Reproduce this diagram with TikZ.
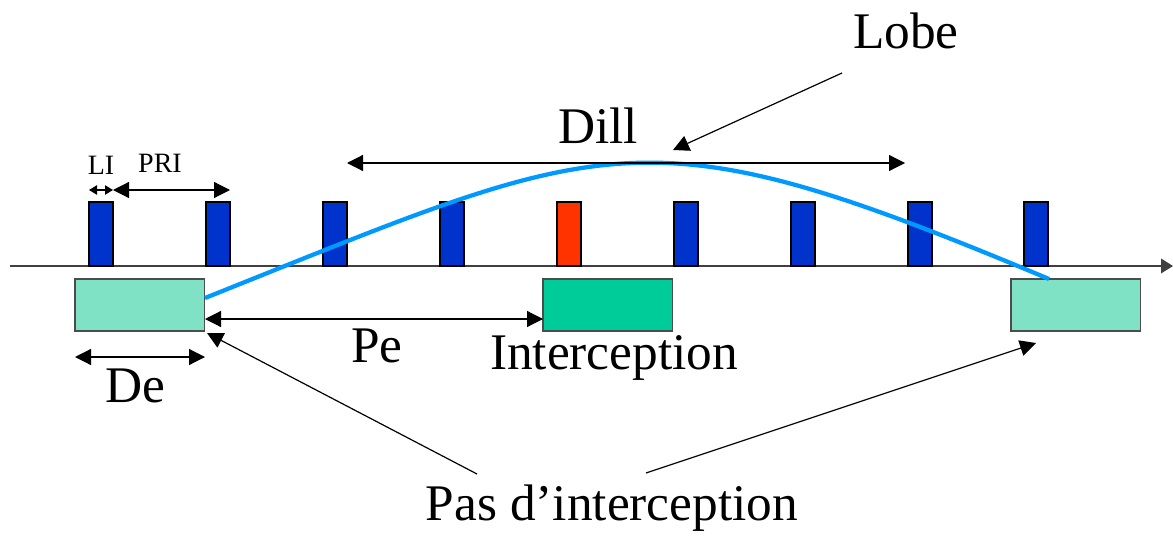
\documentclass[tikz,border=0pt]{standalone}
\usepackage{fontspec}
\setmainfont{Liberation Serif}
\usetikzlibrary{arrows.meta}
\definecolor{pulseblue}{RGB}{0,51,204}
\definecolor{pulsered}{RGB}{255,51,0}
\definecolor{hatchgreen}{RGB}{128,226,196}
\definecolor{intgreen}{RGB}{0,204,153}
\definecolor{lobeblue}{RGB}{0,153,255}
\tikzset{
  pulse/.style={draw=black,line width=1.2pt,fill=pulseblue,minimum width=18pt,minimum height=48pt,inner sep=0pt,outer sep=0pt,anchor=south west},
  win/.style={draw=black!70,line width=1.2pt,minimum width=97pt,minimum height=39pt,inner sep=0pt,outer sep=0pt,anchor=north west},
  big/.style={font=\fontsize{38.5}{40}\selectfont,inner sep=0pt},
  small/.style={font=\fontsize{21}{22}\selectfont,inner sep=0pt},
  dim/.style={line width=0.9pt,{Triangle[length=12pt,width=12pt]}-{Triangle[length=12pt,width=12pt]}},
  tinydim/.style={line width=0.9pt,{Triangle[length=6pt,width=7pt]}-{Triangle[length=6pt,width=7pt]}},
  ptr/.style={line width=0.9pt,-{Triangle[length=12pt,width=12pt]}},
}
\begin{document}
\begin{tikzpicture}[x=0.75pt,y=-0.75pt]
\useasboundingbox (0,0) rectangle (1173,535);
% axis
\coordinate (ax0) at (10,266);
\coordinate (ax1) at (1173,266);
\draw[line width=1.1pt,black!75,-{Triangle[length=9pt,width=11pt]}] (ax0) -- (ax1);
% pulses
\foreach \i/\x in {1/89,2/206,3/323,4/440,6/674,7/791,8/908,9/1024}{
  \node[pulse] (p\i) at (\x,266) {};
}
\node[pulse,fill=pulsered] (p5) at (557,266) {};
% windows
\node[win,fill=hatchgreen] (w1) at (75,279) {};
\node[win,fill=intgreen] (w2) at (543,279) {};
\node[win,fill=hatchgreen] (w3) at (1011,279) {};
% lobe curve
\coordinate (c0) at (205,298);
\coordinate (c1) at (1049,279);
\draw[lobeblue,line width=3.2pt] (c0) .. controls (613,135) and (641,108) .. (c1);
% LI / PRI
\coordinate (li0) at (89,190);
\coordinate (li1) at (113,190);
\coordinate (pr1) at (230,190);
\draw[tinydim] (li0) -- (li1);
\draw[dim] (li1) -- (pr1);
\node[small] (li) at (101,165) {LI};
\node[small] (pri) at (160,163) {PRI};
% Dill
\coordinate (d0) at (347,163);
\coordinate (d1) at (905,163);
\draw[dim] (d0) -- (d1);
\node[big] (dill) at (598,126) {Dill};
% Lobe
\node[big] (lobe) at (906,31) {Lobe};
\coordinate (lobetail) at (842,73);
\coordinate (lobetip) at (673,150);
\draw[ptr] (lobetail) -- (lobetip);
% Pe
\coordinate (pe0) at (205,319);
\coordinate (pe1) at (543,319);
\draw[dim] (pe0) -- (pe1);
\node[big] (pe) at (377,346) {Pe};
% De
\coordinate (de0) at (75,357);
\coordinate (de1) at (205,357);
\draw[dim] (de0) -- (de1);
\node[big] (de) at (135,386) {De};
% Interception
\node[big] (int) at (614,358) {Interception};
% Pas d'interception
\node[big] (pas) at (612,508) {Pas d’interception};
\coordinate (pa0) at (477,474);
\coordinate (pa1) at (207,333);
\coordinate (pb0) at (646,473);
\coordinate (pb1) at (1036,343);
\draw[ptr] (pa0) -- (pa1);
\draw[ptr] (pb0) -- (pb1);
\end{tikzpicture}
\end{document}
